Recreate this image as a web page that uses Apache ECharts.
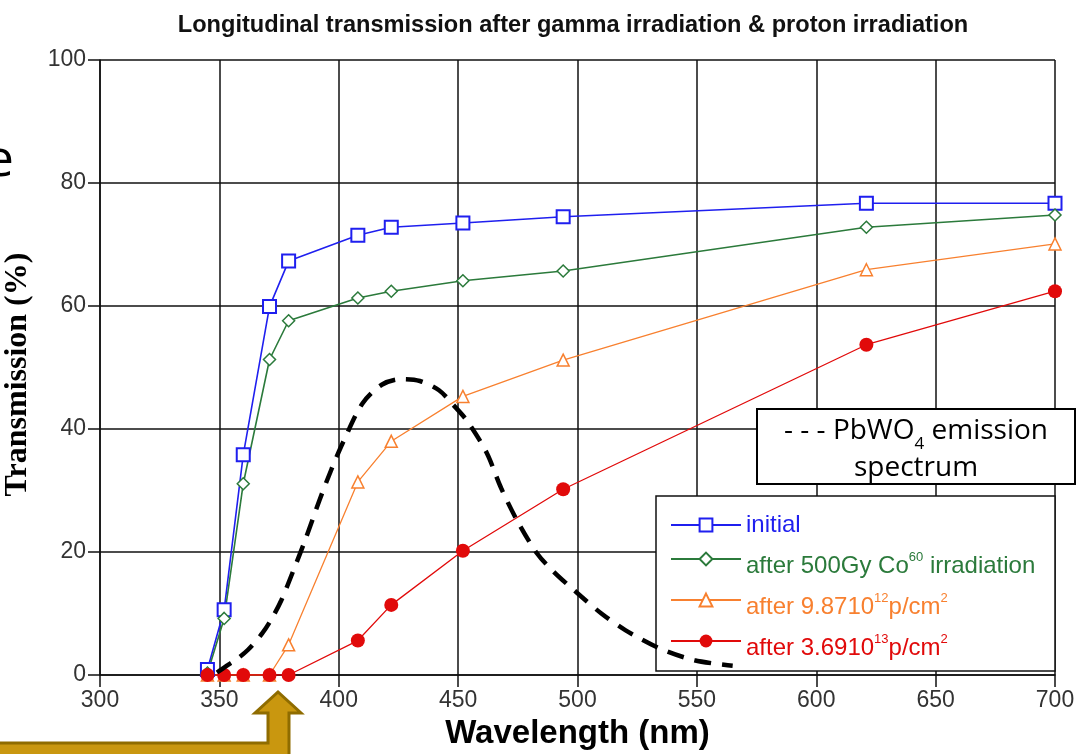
<!DOCTYPE html>
<html>
<head>
<meta charset="utf-8">
<style>
  html, body { margin: 0; padding: 0; background: #ffffff; overflow: hidden; }
  #chart { width: 1079px; height: 754px; }
</style>
<script src="https://cdn.jsdelivr.net/npm/echarts@6/dist/echarts.min.js"></script>
</head>
<body>
<div id="chart"></div>
<script>
// ---- data ----
const wavelengths = [345, 352, 360, 371, 379, 408, 422, 452, 494, 621, 700];
const initialT   = [0.9, 10.6, 35.8, 59.9, 67.3, 71.5, 72.8, 73.5, 74.5, 76.7, 76.7];
const gammaT     = [0.3, 9.2, 31.1, 51.3, 57.6, 61.3, 62.4, 64.1, 65.7, 72.8, 74.8];
const proton12T  = [0, 0, 0, 0, 4.9, 31.4, 38.0, 45.3, 51.2, 65.9, 70.1];
const proton13T  = [0, 0, 0, 0, 0, 5.6, 11.4, 20.2, 30.2, 53.7, 62.4];

const emissionWl  = [349, 353, 357, 362, 368, 372, 376, 381, 386, 392, 397, 402, 410, 418, 426, 434, 442, 448, 454, 462, 468, 475, 483, 490, 500, 510, 520, 534, 549, 565];
const emissionVal = [0.4, 1.5, 2.5, 4.1, 6.8, 9.2, 12.2, 17.0, 22.0, 28.5, 33.5, 38.0, 44.2, 47.2, 48.1, 47.8, 46.3, 43.9, 41.2, 36.1, 30.4, 24.9, 19.8, 16.8, 13.3, 10.0, 7.3, 4.4, 2.4, 1.5];

const xTicks = { min: 300, max: 700, step: 50 };
const yTicks = { min: 0, max: 100, step: 20 };

const seriesNames = ['initial', 'after 500Gy Co60 irradiation', 'after 9.8710 12p/cm2', 'after 3.6910 13p/cm2'];
const titleText = 'Longitudinal transmission after gamma irradiation & proton irradiation';

const C = { blue: '#1f1fef', green: '#2b7a3b', orange: '#f8802f', red: '#e10a0a' };

function pairs(xs, ys) { return xs.map((x, i) => [x, ys[i]]); }

const chart = echarts.init(document.getElementById('chart'), null, { renderer: 'canvas' });

const sansFont = 'Liberation Sans, Arial, sans-serif';

function mainStyle(color) {
  return { color: color, fontSize: 24, fontFamily: sansFont, lineHeight: 38, verticalAlign: 'bottom' };
}
function supStyle(color) {
  return { color: color, fontSize: 13, fontFamily: sansFont, lineHeight: 38, verticalAlign: 'bottom', padding: [0, 0, 14, 0] };
}

const option = {
  animation: false,
  backgroundColor: '#ffffff',
  title: {
    text: titleText,
    left: 568,
    top: 8,
    textAlign: 'center',
    textStyle: { fontFamily: sansFont, fontWeight: 'bold', fontSize: 23.6, color: '#111' }
  },
  grid: { left: 100, right: 24, top: 60, bottom: 79, containLabel: false, outerBoundsMode: 'none' },
  xAxis: {
    type: 'value',
    min: xTicks.min, max: xTicks.max, interval: xTicks.step,
    name: 'Wavelength (nm)',
    nameLocation: 'middle',
    nameGap: 42,
    nameTextStyle: { fontFamily: sansFont, fontWeight: 'bold', fontSize: 33, color: '#000' },
    axisLine: { show: true, onZero: true, lineStyle: { color: '#111', width: 1.5 } },
    axisTick: { show: true, length: 12, lineStyle: { color: '#111', width: 1.5 } },
    axisLabel: { fontFamily: sansFont, fontSize: 23, color: '#333', margin: 14 },
    splitLine: { show: true, lineStyle: { color: '#111', width: 1.5 } }
  },
  yAxis: {
    type: 'value',
    min: yTicks.min, max: yTicks.max, interval: yTicks.step,
    name: 'Transmission (%)',
    nameLocation: 'middle',
    nameGap: 66,
    nameTextStyle: { fontFamily: 'Liberation Serif, Times New Roman, serif', fontWeight: 'bold', fontSize: 32, color: '#000', padding: [0, 14, 0, 0] },
    axisLine: { show: true, lineStyle: { color: '#111', width: 1.5 } },
    axisTick: { show: true, length: 12, lineStyle: { color: '#111', width: 1.5 } },
    axisLabel: { fontFamily: sansFont, fontSize: 23, color: '#333', margin: 14 },
    splitLine: { show: true, lineStyle: { color: '#111', width: 1.5 } }
  },
  legend: {
    orient: 'vertical',
    left: 670,
    top: 513,
    z: 10,
    padding: 0,
    itemWidth: 70,
    itemHeight: 16,
    itemGap: 14,
    data: seriesNames,
    formatter: function (name) {
      if (name === seriesNames[0]) return '{b|initial}';
      if (name === seriesNames[1]) return '{g|after 500Gy Co}{gs|60}{g| irradiation}';
      if (name === seriesNames[2]) return '{o|after 9.8710}{os|12}{o|p/cm}{os|2}';
      return '{r|after 3.6910}{rs|13}{r|p/cm}{rs|2}';
    },
    textStyle: {
      fontFamily: sansFont,
      fontSize: 24,
      rich: {
        b:  { color: C.blue, fontSize: 24, fontFamily: sansFont, lineHeight: 18, verticalAlign: 'middle' },
        g:  mainStyle(C.green),
        gs: supStyle(C.green),
        o:  mainStyle(C.orange),
        os: supStyle(C.orange),
        r:  mainStyle(C.red),
        rs: supStyle(C.red)
      }
    }
  },
  graphic: [
    {
      type: 'rect', z: 3,
      shape: { x: 656, y: 496, width: 399, height: 175 },
      style: { fill: '#ffffff', stroke: '#111', lineWidth: 1.5 }
    },
    {
      type: 'rect', z: 3,
      shape: { x: 757, y: 409, width: 318, height: 75 },
      style: { fill: '#ffffff', stroke: '#000', lineWidth: 2 }
    },
    {
      type: 'text', z: 4,
      x: 916, y: 435,
      style: {
        text: '{m|- - - PbWO}{s|4}{m| emission}',
        align: 'center', verticalAlign: 'middle',
        rich: {
          m: { fontFamily: 'Open Sans, sans-serif', fontSize: 28, fill: '#000', lineHeight: 36, verticalAlign: 'top' },
          s: { fontFamily: 'Open Sans, sans-serif', fontSize: 17, fill: '#000', lineHeight: 36, verticalAlign: 'bottom' }
        }
      }
    },
    {
      type: 'text', z: 4,
      x: 916, y: 468,
      style: {
        text: 'spectrum',
        align: 'center', verticalAlign: 'middle',
        font: '28px "Open Sans", sans-serif', fill: '#000'
      }
    },
    {
      type: 'text', z: 4,
      x: 14, y: 161,
      style: {
        text: 'e',
        align: 'right', verticalAlign: 'middle',
        font: '52px "Open Sans", sans-serif', fill: '#000'
      }
    },
    {
      type: 'polygon', z: 20,
      shape: {
        points: [[-6, 743], [268, 743], [268, 713], [255, 713], [278, 692], [301, 713], [289, 713], [289, 760], [-6, 760]]
      },
      style: { fill: '#c9970f', stroke: '#8f6c00', lineWidth: 3, lineJoin: 'miter' }
    }
  ],
  series: [
    {
      name: seriesNames[0], type: 'line', z: 2,
      data: pairs(wavelengths, initialT),
      symbol: 'rect', symbolSize: 13,
      lineStyle: { color: C.blue, width: 1.6 },
      itemStyle: { color: '#ffffff', borderColor: C.blue, borderWidth: 2 }
    },
    {
      name: seriesNames[1], type: 'line', z: 2,
      data: pairs(wavelengths, gammaT),
      symbol: 'diamond', symbolSize: 12,
      lineStyle: { color: C.green, width: 1.6 },
      itemStyle: { color: '#ffffff', borderColor: C.green, borderWidth: 1.5 }
    },
    {
      name: seriesNames[2], type: 'line', z: 2,
      data: pairs(wavelengths, proton12T),
      symbol: 'triangle', symbolSize: 12,
      lineStyle: { color: C.orange, width: 1.3 },
      itemStyle: { color: '#ffffff', borderColor: C.orange, borderWidth: 1.5 }
    },
    {
      name: seriesNames[3], type: 'line', z: 2,
      data: pairs(wavelengths, proton13T),
      symbol: 'circle', symbolSize: 14,
      lineStyle: { color: C.red, width: 1.3 },
      itemStyle: { color: C.red, borderColor: C.red, borderWidth: 0 }
    },
    {
      name: 'PbWO4 emission spectrum', type: 'line', z: 12,
      data: pairs(emissionWl, emissionVal),
      smooth: 0.3,
      showSymbol: false, symbol: 'none',
      lineStyle: { color: '#000', width: 4.5, type: [17, 11] }
    }
  ]
};

chart.setOption(option);
</script>
</body>
</html>
